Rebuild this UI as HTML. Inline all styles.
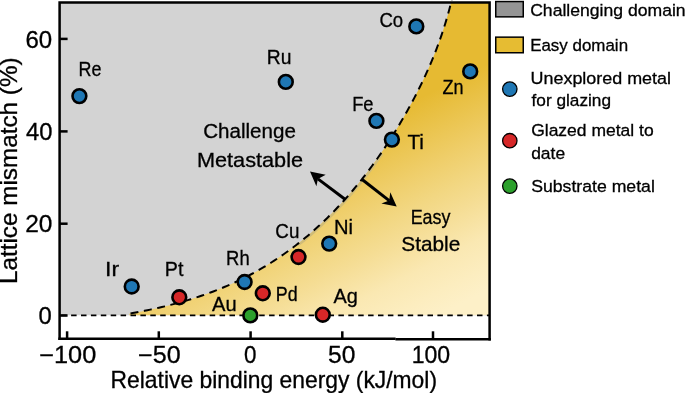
<!DOCTYPE html>
<html><head><meta charset="utf-8"><style>
html,body{margin:0;padding:0;background:#fff;}
svg{display:block;}
text{font-family:"Liberation Sans",Arial,sans-serif;fill:#000;stroke:#000;stroke-width:0.3px;}
</style></head><body>
<svg width="685" height="393" viewBox="0 0 685 393">
<defs>
<linearGradient id="gy" gradientUnits="userSpaceOnUse" x1="126.2" y1="247.7" x2="217.9" y2="427.7"><stop offset="0.000" stop-color="#E6BA32"/><stop offset="0.146" stop-color="#EAC34B"/><stop offset="0.322" stop-color="#EFCE6A"/><stop offset="0.465" stop-color="#F2D782"/><stop offset="0.579" stop-color="#F5DD94"/><stop offset="0.757" stop-color="#FAE8B2"/><stop offset="0.896" stop-color="#FCEDBF"/><stop offset="1.000" stop-color="#FDF0C8"/></linearGradient>
<clipPath id="cp"><rect x="59.6" y="2.5" width="430.0" height="336.3"/></clipPath>
</defs>
<rect width="685" height="393" fill="#fff"/>
<g clip-path="url(#cp)">
<rect x="59.6" y="0.5" width="430.0" height="314.8" fill="#d3d3d3"/>
<path d="M129.20,315.00 L129.82,313.54 L132.74,313.03 L135.66,312.51 L138.58,311.97 L141.50,311.41 L144.42,310.84 L147.33,310.25 L150.25,309.64 L153.17,309.02 L156.08,308.38 L158.99,307.72 L161.89,307.05 L164.80,306.35 L167.70,305.64 L170.59,304.90 L173.49,304.15 L176.37,303.38 L179.25,302.59 L182.13,301.78 L185.00,300.95 L187.86,300.10 L190.72,299.23 L193.57,298.34 L196.41,297.42 L199.25,296.49 L202.08,295.53 L204.90,294.55 L207.71,293.54 L210.51,292.52 L213.30,291.47 L216.08,290.40 L218.85,289.31 L221.61,288.19 L224.36,287.04 L227.10,285.88 L229.83,284.68 L232.54,283.47 L235.25,282.23 L237.94,280.96 L240.61,279.67 L243.28,278.35 L245.93,277.01 L248.57,275.64 L251.19,274.25 L253.80,272.83 L256.40,271.39 L258.98,269.92 L261.55,268.44 L264.11,266.92 L266.65,265.39 L269.17,263.83 L271.69,262.25 L274.18,260.65 L276.67,259.02 L279.13,257.37 L281.59,255.70 L284.02,254.01 L286.45,252.29 L288.85,250.55 L291.24,248.80 L293.62,247.02 L295.98,245.22 L298.32,243.39 L300.65,241.55 L302.96,239.69 L305.25,237.81 L307.53,235.91 L309.79,233.98 L312.04,232.04 L314.26,230.08 L316.48,228.10 L318.67,226.10 L320.85,224.08 L323.01,222.05 L325.16,219.99 L327.29,217.92 L329.40,215.83 L331.50,213.73 L333.58,211.60 L335.65,209.46 L337.70,207.31 L339.74,205.14 L341.75,202.95 L343.76,200.75 L345.75,198.53 L347.72,196.29 L349.67,194.04 L351.61,191.78 L353.54,189.50 L355.45,187.21 L357.35,184.91 L359.23,182.59 L361.09,180.26 L362.94,177.91 L364.77,175.56 L366.59,173.19 L368.40,170.81 L370.19,168.41 L371.96,166.01 L373.72,163.59 L375.47,161.17 L377.20,158.73 L378.91,156.28 L380.61,153.82 L382.30,151.35 L383.97,148.87 L385.63,146.39 L387.28,143.89 L388.90,141.38 L390.52,138.87 L392.12,136.35 L393.71,133.82 L395.28,131.28 L396.84,128.73 L398.38,126.18 L399.91,123.62 L401.43,121.05 L402.93,118.48 L404.42,115.89 L405.90,113.31 L407.36,110.71 L408.81,108.11 L410.24,105.50 L411.65,102.89 L413.05,100.27 L414.44,97.64 L415.81,95.00 L417.16,92.36 L418.50,89.71 L419.82,87.05 L421.12,84.39 L422.41,81.71 L423.68,79.03 L424.93,76.35 L426.17,73.65 L427.39,70.95 L428.59,68.24 L429.77,65.52 L430.93,62.79 L432.08,60.06 L433.21,57.32 L434.31,54.57 L435.40,51.81 L436.47,49.04 L437.52,46.27 L438.55,43.48 L439.56,40.69 L440.55,37.89 L441.52,35.08 L442.47,32.26 L443.40,29.44 L444.31,26.60 L445.20,23.76 L446.06,20.91 L446.91,18.05 L447.73,15.18 L448.53,12.30 L449.31,9.41 L450.06,6.51 L450.79,3.61 L451.70,0.00 L492.60,0.00 L492.60,315.30 L129.20,315.30 Z" fill="url(#gy)"/>
</g>
<path d="M299.12,244.42 L301.46,242.57 L303.78,240.70 L306.08,238.81 L308.37,236.90 L310.64,234.97 L312.89,233.02 L315.13,231.05 L317.35,229.06 L319.55,227.06 L321.74,225.03 L323.91,222.99 L326.06,220.93 L328.20,218.85 L330.32,216.75 L332.43,214.64 L334.52,212.51 L336.59,210.36 L338.65,208.20 L340.69,206.02 L342.71,203.83 L344.72,201.62 L346.72,199.39 L348.69,197.15 L350.66,194.89 L352.60,192.62 L354.54,190.34 L356.45,188.04 L358.35,185.73 L360.24,183.41 L362.11,181.07 L363.96,178.72 L365.80,176.35 L367.63,173.98 L369.44,171.59 L371.23,169.19 L373.01,166.78 L374.78,164.35 L376.52,161.92 L378.26,159.48 L379.98,157.02 L381.69,154.56" fill="none" stroke="#D0BC78" stroke-width="2.4" stroke-linecap="round"/>
<line x1="61.2" y1="315.3" x2="489.6" y2="315.3" stroke="#000" stroke-width="1.7" stroke-dasharray="5.5 4.4" stroke-dashoffset="0"/>
<path d="M129.20,315.00 L129.82,313.54 L132.74,313.03 L135.66,312.51 L138.58,311.97 L141.50,311.41 L144.42,310.84 L147.33,310.25 L150.25,309.64 L153.17,309.02 L156.08,308.38 L158.99,307.72 L161.89,307.05 L164.80,306.35 L167.70,305.64 L170.59,304.90 L173.49,304.15 L176.37,303.38 L179.25,302.59 L182.13,301.78 L185.00,300.95 L187.86,300.10 L190.72,299.23 L193.57,298.34 L196.41,297.42 L199.25,296.49 L202.08,295.53 L204.90,294.55 L207.71,293.54 L210.51,292.52 L213.30,291.47 L216.08,290.40 L218.85,289.31 L221.61,288.19 L224.36,287.04 L227.10,285.88 L229.83,284.68 L232.54,283.47 L235.25,282.23 L237.94,280.96 L240.61,279.67 L243.28,278.35 L245.93,277.01 L248.57,275.64 L251.19,274.25 L253.80,272.83 L256.40,271.39 L258.98,269.92 L261.55,268.44 L264.11,266.92 L266.65,265.39 L269.17,263.83 L271.69,262.25 L274.18,260.65 L276.67,259.02 L279.13,257.37 L281.59,255.70 L284.02,254.01 L286.45,252.29 L288.85,250.55 L291.24,248.80 L293.62,247.02 L295.98,245.22 L298.32,243.39 L300.65,241.55 L302.96,239.69 L305.25,237.81 L307.53,235.91 L309.79,233.98 L312.04,232.04 L314.26,230.08 L316.48,228.10 L318.67,226.10 L320.85,224.08 L323.01,222.05 L325.16,219.99 L327.29,217.92 L329.40,215.83 L331.50,213.73 L333.58,211.60 L335.65,209.46 L337.70,207.31 L339.74,205.14 L341.75,202.95 L343.76,200.75 L345.75,198.53 L347.72,196.29 L349.67,194.04 L351.61,191.78 L353.54,189.50 L355.45,187.21 L357.35,184.91 L359.23,182.59 L361.09,180.26 L362.94,177.91 L364.77,175.56 L366.59,173.19 L368.40,170.81 L370.19,168.41 L371.96,166.01 L373.72,163.59 L375.47,161.17 L377.20,158.73 L378.91,156.28 L380.61,153.82 L382.30,151.35 L383.97,148.87 L385.63,146.39 L387.28,143.89 L388.90,141.38 L390.52,138.87 L392.12,136.35 L393.71,133.82 L395.28,131.28 L396.84,128.73 L398.38,126.18 L399.91,123.62 L401.43,121.05 L402.93,118.48 L404.42,115.89 L405.90,113.31 L407.36,110.71 L408.81,108.11 L410.24,105.50 L411.65,102.89 L413.05,100.27 L414.44,97.64 L415.81,95.00 L417.16,92.36 L418.50,89.71 L419.82,87.05 L421.12,84.39 L422.41,81.71 L423.68,79.03 L424.93,76.35 L426.17,73.65 L427.39,70.95 L428.59,68.24 L429.77,65.52 L430.93,62.79 L432.08,60.06 L433.21,57.32 L434.31,54.57 L435.40,51.81 L436.47,49.04 L437.52,46.27 L438.55,43.48 L439.56,40.69 L440.55,37.89 L441.52,35.08 L442.47,32.26 L443.40,29.44 L444.31,26.60 L445.20,23.76 L446.06,20.91 L446.91,18.05 L447.73,15.18 L448.53,12.30 L449.31,9.41 L450.06,6.51 L450.79,3.61 L451.70,0.00" fill="none" stroke="#000" stroke-width="2.0" stroke-dasharray="8 5.6" stroke-dashoffset="11.32"/>
<line x1="345" y1="199.3" x2="317.9" y2="178.9" stroke="#000" stroke-width="3"/>
<path d="M310.0,171.5 L325.7,174.8 L317.9,178.9 L316.4,186.2 Z" fill="#000"/>
<line x1="361.8" y1="179.3" x2="389.2" y2="200.6" stroke="#000" stroke-width="3"/>
<path d="M396.7,206.4 L390.3,192.2 L389.2,200.6 L381.4,203.6 Z" fill="#000"/>
<g stroke="#000" stroke-width="2.5" fill="none">
<path d="M59.6,338.65 L59.6,2.5 L489.6,2.5 L489.6,339.3" stroke-linejoin="miter" stroke-linecap="square"/>
<line x1="58.35" y1="338.65" x2="395.6" y2="338.65"/>
<line x1="395.4" y1="339.35" x2="490.85" y2="339.35"/>
<line x1="59.6" y1="38.9" x2="67.6" y2="38.9"/>
<line x1="59.6" y1="131.4" x2="67.6" y2="131.4"/>
<line x1="59.6" y1="223.7" x2="67.6" y2="223.7"/>
<line x1="59.6" y1="315.5" x2="67.6" y2="315.5"/>
<line x1="67.1" y1="338.8" x2="67.1" y2="331.3"/>
<line x1="158.8" y1="338.8" x2="158.8" y2="331.3"/>
<line x1="250.6" y1="338.8" x2="250.6" y2="331.3"/>
<line x1="342.3" y1="338.8" x2="342.3" y2="331.3"/>
<line x1="433.0" y1="338.8" x2="433.0" y2="331.3"/>
</g>
<circle cx="79.4" cy="96.1" r="6.9" fill="#1F77B4" stroke="#000" stroke-width="2.6"/>
<circle cx="131.7" cy="286.5" r="6.9" fill="#1F77B4" stroke="#000" stroke-width="2.6"/>
<circle cx="179.3" cy="297.3" r="6.9" fill="#D62728" stroke="#000" stroke-width="2.6"/>
<circle cx="244.6" cy="282.0" r="6.9" fill="#1F77B4" stroke="#000" stroke-width="2.6"/>
<circle cx="250.3" cy="315.4" r="6.9" fill="#2CA02C" stroke="#000" stroke-width="2.6"/>
<circle cx="262.8" cy="293.3" r="6.9" fill="#D62728" stroke="#000" stroke-width="2.6"/>
<circle cx="298.5" cy="257.0" r="6.9" fill="#D62728" stroke="#000" stroke-width="2.6"/>
<circle cx="322.8" cy="314.7" r="6.9" fill="#D62728" stroke="#000" stroke-width="2.6"/>
<circle cx="329.2" cy="243.6" r="6.9" fill="#1F77B4" stroke="#000" stroke-width="2.6"/>
<circle cx="285.8" cy="81.9" r="6.9" fill="#1F77B4" stroke="#000" stroke-width="2.6"/>
<circle cx="376.4" cy="120.9" r="6.9" fill="#1F77B4" stroke="#000" stroke-width="2.6"/>
<circle cx="391.9" cy="139.6" r="6.9" fill="#1F77B4" stroke="#000" stroke-width="2.6"/>
<circle cx="416.3" cy="26.4" r="6.9" fill="#1F77B4" stroke="#000" stroke-width="2.6"/>
<circle cx="470.2" cy="71.4" r="6.9" fill="#1F77B4" stroke="#000" stroke-width="2.6"/>
<rect x="495.75" y="1.55" width="27.5" height="15.3" fill="#949494" stroke="#000" stroke-width="1.5"/>
<rect x="495.75" y="37.15" width="27.5" height="15.6" fill="#E6BC32" stroke="#000" stroke-width="1.5"/>
<circle cx="509.8" cy="89.1" r="7.2" fill="#1F77B4" stroke="#000" stroke-width="1.3"/>
<circle cx="509.8" cy="140.7" r="7.2" fill="#D62728" stroke="#000" stroke-width="1.3"/>
<circle cx="509.8" cy="186.1" r="7.2" fill="#2CA02C" stroke="#000" stroke-width="1.3"/>
<text id="t_chal" x="203.17" y="138.20" font-size="20.00" textLength="92.68" lengthAdjust="spacingAndGlyphs">Challenge</text>
<text id="t_meta" x="196.95" y="166.90" font-size="20.20" textLength="106.08" lengthAdjust="spacingAndGlyphs">Metastable</text>
<text id="t_easy" x="410.67" y="223.70" font-size="19.80" textLength="39.83" lengthAdjust="spacingAndGlyphs">Easy</text>
<text id="t_stab" x="401.33" y="251.10" font-size="20.30" textLength="58.95" lengthAdjust="spacingAndGlyphs">Stable</text>
<text id="e_Re" x="78.47" y="76.20" font-size="20.60" textLength="22.93" lengthAdjust="spacingAndGlyphs">Re</text>
<text id="e_Ru" x="266.84" y="63.90" font-size="20.60" textLength="24.62" lengthAdjust="spacingAndGlyphs">Ru</text>
<text id="e_Ir" x="105.12" y="275.70" font-size="20.60" textLength="14.09" lengthAdjust="spacingAndGlyphs">Ir</text>
<text id="e_Pt" x="164.87" y="275.70" font-size="20.60" textLength="18.56" lengthAdjust="spacingAndGlyphs">Pt</text>
<text id="e_Rh" x="226.11" y="264.90" font-size="20.60" textLength="23.54" lengthAdjust="spacingAndGlyphs">Rh</text>
<text id="e_Pd" x="275.73" y="300.70" font-size="20.60" textLength="21.85" lengthAdjust="spacingAndGlyphs">Pd</text>
<text id="e_Au" x="212.03" y="311.20" font-size="20.60" textLength="24.61" lengthAdjust="spacingAndGlyphs">Au</text>
<text id="e_Cu" x="275.33" y="237.80" font-size="20.60" textLength="24.01" lengthAdjust="spacingAndGlyphs">Cu</text>
<text id="e_Ni" x="334.04" y="233.70" font-size="20.60" textLength="19.03" lengthAdjust="spacingAndGlyphs">Ni</text>
<text id="e_Ag" x="333.59" y="303.20" font-size="20.60" textLength="24.36" lengthAdjust="spacingAndGlyphs">Ag</text>
<text id="e_Fe" x="352.13" y="110.70" font-size="20.60" textLength="21.39" lengthAdjust="spacingAndGlyphs">Fe</text>
<text id="e_Ti" x="407.41" y="148.50" font-size="20.60" textLength="16.48" lengthAdjust="spacingAndGlyphs">Ti</text>
<text id="e_Co" x="379.41" y="27.00" font-size="20.60" textLength="23.72" lengthAdjust="spacingAndGlyphs">Co</text>
<text id="e_Zn" x="442.41" y="94.00" font-size="20.60" textLength="21.05" lengthAdjust="spacingAndGlyphs">Zn</text>
<text id="y60" x="25.40" y="47.50" font-size="23.50" textLength="26.70" lengthAdjust="spacingAndGlyphs">60</text>
<text id="y40" x="26.10" y="139.70" font-size="23.50" textLength="26.47" lengthAdjust="spacingAndGlyphs">40</text>
<text id="y20" x="25.25" y="231.80" font-size="23.50" textLength="27.22" lengthAdjust="spacingAndGlyphs">20</text>
<text id="y0" x="38.54" y="324.00" font-size="23.50" textLength="13.27" lengthAdjust="spacingAndGlyphs">0</text>
<text id="xm100" x="39.16" y="363.00" font-size="23.50" textLength="57.09" lengthAdjust="spacingAndGlyphs">−100</text>
<text id="xm50" x="138.14" y="363.00" font-size="23.50" textLength="42.52" lengthAdjust="spacingAndGlyphs">−50</text>
<text id="x0" x="243.90" y="362.80" font-size="23.50" textLength="12.47" lengthAdjust="spacingAndGlyphs">0</text>
<text id="x50" x="328.11" y="363.00" font-size="23.50" textLength="27.37" lengthAdjust="spacingAndGlyphs">50</text>
<text id="x100" x="411.63" y="363.00" font-size="23.50" textLength="38.48" lengthAdjust="spacingAndGlyphs">100</text>
<text id="xlab" x="110.58" y="387.80" font-size="23.20" textLength="326.44" lengthAdjust="spacingAndGlyphs">Relative binding energy (kJ/mol)</text>
<text id="lg1" x="530.17" y="15.80" font-size="17.20" textLength="155.45" lengthAdjust="spacingAndGlyphs">Challenging domain</text>
<text id="lg2" x="530.16" y="50.90" font-size="17.20" textLength="97.89" lengthAdjust="spacingAndGlyphs">Easy domain</text>
<text id="lg3" x="530.57" y="83.70" font-size="17.20" textLength="140.45" lengthAdjust="spacingAndGlyphs">Unexplored metal</text>
<text id="lg4" x="531.57" y="106.20" font-size="17.20" textLength="79.46" lengthAdjust="spacingAndGlyphs">for glazing</text>
<text id="lg5" x="531.17" y="135.60" font-size="17.20" textLength="122.45" lengthAdjust="spacingAndGlyphs">Glazed metal to</text>
<text id="lg6" x="531.15" y="158.60" font-size="17.20" textLength="33.94" lengthAdjust="spacingAndGlyphs">date</text>
<text id="lg7" x="531.19" y="192.10" font-size="17.20" textLength="123.64" lengthAdjust="spacingAndGlyphs">Substrate metal</text>
<text id="ylab" x="16.80" y="284.03" font-size="23.20" textLength="226.66" lengthAdjust="spacingAndGlyphs" transform="rotate(-90 16.8 284.0273457585705)">Lattice mismatch (%)</text>
</svg>
</body></html>
